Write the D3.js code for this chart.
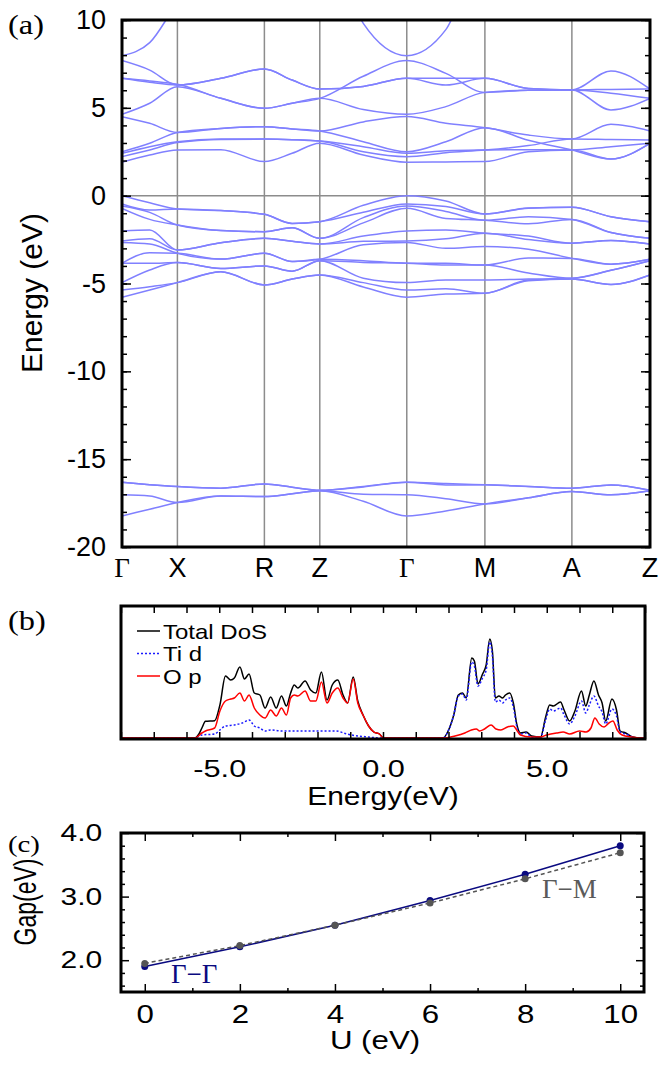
<!DOCTYPE html>
<html>
<head>
<meta charset="utf-8">
<script src="https://cdn.jsdelivr.net/npm/d3@7"></script>
<style>
  html, body { margin: 0; padding: 0; background: #ffffff; }
  svg { display: block; }
</style>
</head>
<body>
<svg id="fig" width="660" height="1068"></svg>
<script>
// ---------------- (a) band structure ----------------
const kLabels = ["Γ", "X", "R", "Z", "Γ", "M", "A", "Z"];
const kNodes = [0, 1.0, 2.57, 3.57, 5.14, 6.55, 8.12, 9.53];
const energyTicks = [10, 5, 0, -5, -10, -15, -20];

// energies (eV) at every high-symmetry point and at each segment midpoint:
// Γ, ·, X, ·, R, ·, Z, ·, Γ, ·, M, ·, A, ·, Z
const conductionBands = [
  [1.90, 2.31, 2.60, 2.62, 1.94, 2.41, 2.98, 2.31, 1.90, 1.92, 1.94, 2.50, 2.60, 2.09, 2.98],
  [2.22, 2.60, 3.02, 3.20, 3.22, 3.19, 3.11, 2.50, 2.22, 2.45, 2.60, 2.85, 3.23, 3.20, 3.17],
  [2.41, 2.79, 3.07, 3.22, 3.22, 3.19, 3.11, 2.79, 2.41, 2.55, 2.60, 2.62, 2.60, 2.79, 2.98],
  [2.50, 2.98, 3.60, 3.83, 3.93, 3.80, 3.68, 3.07, 2.50, 3.07, 3.87, 3.15, 2.60, 2.09, 2.98],
  [4.50, 4.12, 3.60, 3.83, 3.93, 3.80, 3.68, 4.20, 4.50, 4.12, 3.87, 3.45, 3.23, 4.06, 3.68],
  [4.63, 5.26, 6.20, 5.54, 4.97, 5.26, 5.54, 4.90, 4.63, 5.07, 5.88, 6.00, 6.02, 4.88, 5.54],
  [6.68, 6.53, 6.34, 5.54, 4.97, 5.26, 5.54, 6.80, 7.69, 6.96, 5.88, 6.00, 6.02, 5.83, 5.54],
  [6.68, 6.45, 6.30, 6.68, 7.21, 6.58, 6.07, 6.22, 6.68, 6.30, 6.68, 6.10, 6.02, 7.10, 6.07],
  [7.69, 7.15, 6.30, 6.68, 7.21, 6.58, 6.07, 6.22, 6.68, 6.68, 6.68, 6.10, 6.02, 6.05, 6.07],
  [7.97, 8.71, 10.95, 13.0, 13.0, 13.5, 15.3, 9.81, 7.97, 9.45, 13.9, 14.0, 14.0, 14.5, 15.3]
];
const valenceBands = [
  [0.00, -0.40, -0.76, -0.85, -1.06, -1.58, -1.48, -0.55, 0.00, -0.30, -1.04, -0.70, -0.66, -1.20, -1.48],
  [-0.47, -0.82, -0.76, -0.85, -1.06, -1.58, -1.48, -0.95, -0.47, -0.62, -1.04, -0.72, -0.66, -1.20, -1.48],
  [-0.59, -0.95, -1.67, -1.99, -2.05, -1.83, -2.43, -1.25, -0.59, -0.90, -1.40, -1.20, -1.35, -2.10, -2.43],
  [-0.72, -1.35, -1.67, -1.99, -2.05, -1.83, -2.43, -1.55, -0.72, -1.30, -1.40, -1.60, -1.35, -2.10, -2.43],
  [-2.01, -1.95, -3.09, -2.68, -2.43, -2.60, -2.75, -2.30, -2.01, -1.95, -2.14, -2.30, -2.71, -2.55, -2.75],
  [-2.58, -2.45, -3.09, -2.68, -2.43, -2.60, -2.75, -2.60, -2.58, -2.45, -2.14, -2.50, -2.71, -2.55, -2.75],
  [-2.66, -2.75, -3.28, -3.61, -3.28, -3.75, -3.62, -2.80, -2.66, -3.00, -2.90, -3.05, -3.57, -3.90, -3.62],
  [-3.85, -3.25, -3.28, -3.61, -3.28, -3.75, -3.62, -3.70, -3.85, -3.85, -3.95, -3.55, -3.57, -3.90, -3.62],
  [-3.85, -3.85, -3.81, -4.14, -4.00, -4.30, -3.70, -3.80, -3.85, -3.95, -3.95, -4.40, -4.70, -4.25, -3.70],
  [-4.95, -4.23, -3.81, -4.14, -4.00, -4.30, -3.70, -4.70, -4.95, -4.80, -4.80, -4.75, -4.70, -4.25, -3.70],
  [-5.37, -5.18, -4.95, -4.33, -5.08, -4.75, -4.51, -4.95, -5.37, -5.30, -5.56, -4.80, -4.75, -5.05, -4.51],
  [-5.78, -5.37, -4.95, -4.33, -5.08, -4.75, -4.51, -5.20, -5.78, -5.60, -5.56, -4.85, -4.75, -5.05, -4.51]
];
const semicoreBands = [
  [-16.31, -16.45, -16.56, -16.65, -16.41, -16.60, -16.77, -16.55, -16.31, -16.38, -16.46, -16.55, -16.65, -16.47, -16.77],
  [-16.31, -16.45, -16.56, -16.65, -16.41, -16.60, -16.77, -16.58, -16.31, -16.47, -16.46, -16.55, -16.65, -16.47, -16.77],
  [-17.03, -17.10, -17.47, -17.10, -17.13, -16.97, -16.80, -17.00, -17.03, -17.25, -17.55, -17.20, -16.84, -17.03, -16.80],
  [-18.23, -17.85, -17.47, -17.10, -17.13, -16.97, -16.80, -17.40, -18.23, -17.95, -17.55, -17.20, -16.84, -17.03, -16.80]
];

// ---------------- (b) density of states ----------------
const dosTicks = [-5, 0, 5];
const dosTotal = [
  [-8, 0], [-5.75, 0], [-5.62, 0.4], [-5.53, 1.0], [-5.42, 1.67], [-5.14, 1.73], [-4.98, 3.3], [-4.81, 6.2],
  [-4.65, 5.8], [-4.54, 6.0], [-4.37, 7.1], [-4.23, 5.9], [-4.09, 6.4], [-3.93, 4.5], [-3.76, 4.3], [-3.6, 3.0],
  [-3.43, 4.1], [-3.26, 3.0], [-3.1, 4.2], [-2.95, 3.2], [-2.82, 4.5], [-2.71, 5.3], [-2.6, 5.0], [-2.38, 5.7],
  [-2.21, 4.8], [-2.05, 4.5], [-1.88, 6.6], [-1.71, 3.8], [-1.55, 5.3], [-1.38, 5.8], [-1.22, 4.3], [-1.08, 3.5],
  [-0.91, 6.1], [-0.77, 3.7], [-0.61, 2.3], [-0.44, 1.2], [-0.28, 0.6], [-0.11, 0.4], [0.02, 0], [1.83, 0],
  [1.99, 0.7], [2.16, 2.3], [2.3, 4.3], [2.43, 4.5], [2.54, 4.0], [2.71, 8.0], [2.79, 7.7], [2.9, 5.4],
  [3.04, 6.4], [3.15, 7.3], [3.26, 9.9], [3.34, 8.7], [3.43, 4.0], [3.54, 4.2], [3.65, 4.0], [3.74, 4.3],
  [3.87, 4.5], [3.98, 3.5], [4.09, 1.3], [4.2, 0.5], [4.37, 0.6], [4.54, 0.2], [4.81, 0.1], [4.96, 2.0],
  [5.09, 3.3], [5.2, 3.2], [5.42, 3.6], [5.53, 2.8], [5.7, 1.7], [5.86, 2.7], [6.06, 4.7], [6.19, 3.2],
  [6.3, 4.3], [6.44, 5.7], [6.58, 4.3], [6.69, 3.5], [6.8, 1.7], [6.99, 3.9], [7.13, 2.8], [7.24, 0.7],
  [7.41, 0.5], [7.63, 0.1], [7.85, 0], [8, 0]
];
const dosTiD = [
  [-8, 0], [-5.75, 0], [-5.53, 0.3], [-5.14, 0.4], [-4.98, 0.8], [-4.81, 1.2], [-4.54, 1.3], [-4.3, 1.5],
  [-4.09, 1.8], [-3.93, 1.2], [-3.76, 1.0], [-3.6, 0.7], [-3.43, 0.8], [-3.1, 0.7], [-2.77, 0.7], [-2.33, 0.7],
  [-1.88, 0.7], [-1.44, 0.7], [-1.11, 0.4], [-0.77, 0.2], [-0.44, 0.1], [-0.11, 0], [1.83, 0], [1.99, 0.7],
  [2.16, 2.3], [2.3, 4.2], [2.43, 4.4], [2.54, 3.8], [2.71, 7.6], [2.79, 7.2], [2.9, 5.2], [3.04, 6.0],
  [3.15, 6.8], [3.26, 9.6], [3.34, 8.2], [3.43, 3.6], [3.54, 3.8], [3.65, 3.5], [3.74, 3.8], [3.87, 4.0],
  [3.98, 3.1], [4.09, 1.1], [4.2, 0.4], [4.37, 0.5], [4.54, 0.1], [4.81, 0.05], [4.96, 1.7], [5.09, 2.9],
  [5.2, 2.7], [5.42, 3.0], [5.53, 2.3], [5.7, 1.4], [5.86, 2.2], [6.06, 3.7], [6.19, 2.5], [6.3, 3.3],
  [6.44, 4.2], [6.58, 3.2], [6.69, 2.6], [6.8, 1.4], [6.99, 2.9], [7.13, 2.2], [7.24, 0.6], [7.41, 0.4],
  [7.63, 0.1], [7.85, 0], [8, 0]
];
const dosOP = [
  [-8, 0], [-5.75, 0], [-5.53, 0.5], [-5.42, 0.7], [-5.14, 1.0], [-4.98, 2.7], [-4.81, 3.7], [-4.65, 3.9],
  [-4.54, 4.0], [-4.37, 4.5], [-4.23, 3.7], [-4.09, 4.3], [-3.93, 3.0], [-3.76, 2.3], [-3.6, 2.0], [-3.43, 2.8],
  [-3.26, 2.2], [-3.1, 3.0], [-2.95, 2.3], [-2.82, 4.0], [-2.71, 4.3], [-2.6, 4.2], [-2.38, 4.7], [-2.21, 3.7],
  [-2.05, 3.7], [-1.88, 5.6], [-1.71, 3.5], [-1.55, 4.5], [-1.38, 5.0], [-1.22, 4.0], [-1.08, 3.5], [-0.91, 5.9],
  [-0.77, 3.5], [-0.61, 2.3], [-0.44, 1.2], [-0.28, 0.6], [-0.11, 0.4], [0.02, 0], [1.9, 0], [2.2, 0.2],
  [2.5, 0.5], [2.7, 0.8], [2.85, 0.9], [2.95, 0.7], [3.1, 0.9], [3.3, 1.3], [3.45, 0.9], [3.6, 0.8],
  [3.8, 1.1], [3.98, 1.2], [4.1, 0.7], [4.2, 0.3], [4.5, 0.1], [4.8, 0.1], [5.0, 0.3], [5.3, 0.5],
  [5.5, 0.6], [5.7, 0.4], [6.0, 0.7], [6.2, 0.6], [6.35, 1.0], [6.47, 2.0], [6.6, 1.4], [6.75, 1.1],
  [6.9, 1.5], [7.02, 1.7], [7.15, 0.8], [7.3, 0.3], [7.6, 0.1], [7.85, 0], [8, 0]
];
const dosLegend = ["Total DoS", "Ti d", "O p"];

// ---------------- (c) band gap versus U ----------------
const hubbardU = [0, 2, 4, 6, 8, 10];
const gapGammaGamma = [1.90, 2.21, 2.55, 2.94, 3.35, 3.80];
const gapGammaM = [1.95, 2.23, 2.55, 2.90, 3.28, 3.69];
const gapTicks = [2.0, 3.0, 4.0];

// ---------------- drawing ----------------
const SANS = "'Liberation Sans', Arial, Helvetica, sans-serif";
const SERIF = "'Liberation Serif', 'Times New Roman', serif";
const svg = d3.select("#fig");

function styleTicks(g, width) {
  g.select(".domain").remove();
  g.selectAll("line").attr("stroke", "#000").attr("stroke-width", width || 1.5);
}
function frame(box) {
  svg.append("rect")
    .attr("x", box.l).attr("y", box.t)
    .attr("width", box.r - box.l).attr("height", box.b - box.t)
    .attr("fill", "none").attr("stroke", "#000").attr("stroke-width", 3);
}
function panelTag(label, x, y, size) {
  svg.append("text")
    .attr("transform", `translate(${x},${y}) scale(1.2,1)`)
    .attr("font-family", SERIF).attr("font-size", size).text(label);
}

// ===== panel (a)
const A = { l: 122, r: 650, t: 20, b: 547 };
const xk = d3.scaleLinear().domain([kNodes[0], kNodes[kNodes.length - 1]]).range([A.l, A.r]);
const yE = d3.scaleLinear().domain([-20, 10]).range([A.b, A.t]);

const kSamples = [];
kNodes.forEach((k, i) => {
  kSamples.push(k);
  if (i < kNodes.length - 1) kSamples.push((k + kNodes[i + 1]) / 2);
});

svg.append("clipPath").attr("id", "clipA").append("rect")
  .attr("x", A.l).attr("y", A.t).attr("width", A.r - A.l).attr("height", A.b - A.t);

const gA = svg.append("g");
gA.selectAll("line.kline").data(kNodes.slice(1, -1)).join("line")
  .attr("class", "kline")
  .attr("x1", d => xk(d)).attr("x2", d => xk(d))
  .attr("y1", A.t).attr("y2", A.b)
  .attr("stroke", "#8c8c8c").attr("stroke-width", 1.5);
gA.append("line")
  .attr("x1", A.l).attr("x2", A.r).attr("y1", yE(0)).attr("y2", yE(0))
  .attr("stroke", "#8c8c8c").attr("stroke-width", 1.5);

const bandLine = d3.line()
  .x((d, i) => xk(kSamples[i]))
  .y(d => yE(d))
  .curve(d3.curveMonotoneX);

gA.append("g").attr("clip-path", "url(#clipA)")
  .selectAll("path")
  .data([...semicoreBands, ...valenceBands, ...conductionBands])
  .join("path")
  .attr("d", bandLine)
  .attr("fill", "none")
  .attr("stroke", "#8080ff")
  .attr("stroke-width", 1.5);

// energy ticks on both sides, pointing inward
const minorE = yE.ticks(30);
gA.append("g").attr("transform", `translate(${A.l},0)`)
  .call(d3.axisLeft(yE).tickValues(minorE).tickSize(-5).tickFormat(""))
  .call(styleTicks);
gA.append("g").attr("transform", `translate(${A.l},0)`)
  .call(d3.axisLeft(yE).tickValues(energyTicks).tickSize(-9).tickFormat(""))
  .call(styleTicks);
gA.append("g").attr("transform", `translate(${A.r},0)`)
  .call(d3.axisRight(yE).tickValues(minorE).tickSize(-5).tickFormat(""))
  .call(styleTicks);
gA.append("g").attr("transform", `translate(${A.r},0)`)
  .call(d3.axisRight(yE).tickValues(energyTicks).tickSize(-9).tickFormat(""))
  .call(styleTicks);
gA.append("g").attr("transform", `translate(${A.l},0)`)
  .call(d3.axisLeft(yE).tickValues(energyTicks).tickSize(0).tickPadding(16).tickFormat(d => String(d)))
  .call(g => g.select(".domain").remove())
  .attr("font-family", SANS).attr("font-size", 27)
  .selectAll("text").attr("fill", "#000");

gA.selectAll("text.klabel").data(kNodes).join("text")
  .attr("class", "klabel")
  .attr("x", d => xk(d)).attr("y", 577)
  .attr("text-anchor", "middle")
  .attr("font-size", 27)
  .attr("font-family", (d, i) => kLabels[i] === "Γ" ? SERIF : SANS)
  .text((d, i) => kLabels[i]);

gA.append("text")
  .attr("transform", "translate(42,293) rotate(-90)")
  .attr("text-anchor", "middle")
  .attr("font-family", SANS).attr("font-size", 30)
  .text("Energy (eV)");
panelTag("(a)", 8, 34, 27);
frame(A);

// ===== panel (b)
const B = { l: 121, r: 645, t: 606, b: 739 };
const xB = d3.scaleLinear().domain([-8, 8]).range([B.l, B.r]);
const yB = d3.scaleLinear().domain([0, 13.2]).range([738, B.t]);

svg.append("clipPath").attr("id", "clipB").append("rect")
  .attr("x", B.l).attr("y", B.t).attr("width", B.r - B.l).attr("height", B.b - B.t);

const gB = svg.append("g");
const dosLine = d3.line().x(d => xB(d[0])).y(d => yB(d[1])).curve(d3.curveMonotoneX);
const dosSeries = [
  { data: dosTotal, color: "#000000", dash: null },
  { data: dosTiD, color: "#1a1aff", dash: "2,2" },
  { data: dosOP, color: "#ff0000", dash: null }
];
gB.append("g").attr("clip-path", "url(#clipB)")
  .selectAll("path").data(dosSeries).join("path")
  .attr("d", d => dosLine(d.data))
  .attr("fill", "none")
  .attr("stroke", d => d.color)
  .attr("stroke-width", 1.5)
  .attr("stroke-dasharray", d => d.dash);

const eTicks = xB.ticks(16);
gB.append("g").attr("transform", `translate(0,${B.b})`)
  .call(d3.axisBottom(xB).tickValues(eTicks).tickSize(-7).tickFormat(""))
  .call(styleTicks);
gB.append("g").attr("transform", `translate(0,${B.t})`)
  .call(d3.axisTop(xB).tickValues(eTicks).tickSize(-7).tickFormat(""))
  .call(styleTicks);
gB.append("g").attr("transform", `translate(0,${B.b})`)
  .call(d3.axisBottom(xB).tickValues(dosTicks).tickSize(0).tickPadding(21).tickFormat(d => d.toFixed(1)))
  .call(g => g.select(".domain").remove())
  .attr("font-family", SANS).attr("font-size", 24)
  .selectAll("text").attr("fill", "#000").attr("transform", "scale(1.28,1)");

gB.append("text")
  .attr("transform", `translate(${xB(0)},805) scale(1.2,1)`)
  .attr("text-anchor", "middle")
  .attr("font-family", SANS).attr("font-size", 25)
  .text("Energy(eV)");

const legend = gB.append("g");
dosLegend.forEach((label, i) => {
  const yy = 631 + i * 22.5;
  legend.append("line")
    .attr("x1", 137).attr("x2", 160).attr("y1", yy).attr("y2", yy)
    .attr("stroke", dosSeries[i].color).attr("stroke-width", 1.5)
    .attr("stroke-dasharray", dosSeries[i].dash);
  legend.append("text")
    .attr("transform", `translate(163,${yy + 7.5}) scale(1.2,1)`)
    .attr("font-family", SANS).attr("font-size", 20).text(label);
});
panelTag("(b)", 8, 630, 27);
frame(B);

// ===== panel (c)
const C = { l: 121, r: 644, t: 833, b: 992 };
const xU = d3.scaleLinear().domain([-0.5, 10.5]).range([C.l, C.r]);
const yG = d3.scaleLinear().domain([1.5, 4.0]).range([C.b, C.t]);
const gC = svg.append("g");

const uMinor = xU.ticks(11).filter(d => d % 2 !== 0);
const gMinor = yG.ticks(12).filter(d => Math.abs(d * 10 % 10) > 1e-6);
[[d3.axisBottom, C.b], [d3.axisTop, C.t]].forEach(([ax, yy]) => {
  gC.append("g").attr("transform", `translate(0,${yy})`)
    .call(ax(xU).tickValues(hubbardU).tickSize(-8).tickFormat("")).call(styleTicks);
  gC.append("g").attr("transform", `translate(0,${yy})`)
    .call(ax(xU).tickValues(uMinor).tickSize(-4).tickFormat("")).call(styleTicks);
});
[[d3.axisLeft, C.l], [d3.axisRight, C.r]].forEach(([ax, xx]) => {
  gC.append("g").attr("transform", `translate(${xx},0)`)
    .call(ax(yG).tickValues(gapTicks).tickSize(-8).tickFormat("")).call(styleTicks);
  gC.append("g").attr("transform", `translate(${xx},0)`)
    .call(ax(yG).tickValues(gMinor).tickSize(-4).tickFormat("")).call(styleTicks);
});
gC.append("g").attr("transform", `translate(0,${C.b})`)
  .call(d3.axisBottom(xU).tickValues(hubbardU).tickSize(0).tickPadding(13).tickFormat(d => String(d)))
  .call(g => g.select(".domain").remove())
  .attr("font-family", SANS).attr("font-size", 25)
  .selectAll("text").attr("fill", "#000").attr("transform", "scale(1.25,1)");
gC.append("g").attr("transform", `translate(${C.l},0)`)
  .call(d3.axisLeft(yG).tickValues(gapTicks).tickSize(0).tickPadding(15).tickFormat(d => d.toFixed(1)))
  .call(g => g.select(".domain").remove())
  .attr("font-family", SANS).attr("font-size", 24)
  .selectAll("text").attr("fill", "#000").attr("transform", "scale(1.25,1)");

gC.append("text")
  .attr("transform", `translate(375,1049) scale(1.25,1)`)
  .attr("text-anchor", "middle")
  .attr("font-family", SANS).attr("font-size", 25)
  .text("U (eV)");
gC.append("text")
  .attr("transform", "translate(36,902) rotate(-90) scale(1,1.4)")
  .attr("text-anchor", "middle")
  .attr("font-family", SANS).attr("font-size", 23)
  .text("Gap(eV)");

const gapLine = d3.line().x((d, i) => xU(hubbardU[i])).y(d => yG(d));
const gapSeries = [
  { data: gapGammaGamma, color: "#0a0a80", dash: null },
  { data: gapGammaM, color: "#555555", dash: "4,3" }
];
gapSeries.forEach(s => {
  gC.append("path").attr("d", gapLine(s.data))
    .attr("fill", "none").attr("stroke", s.color).attr("stroke-width", 1.5)
    .attr("stroke-dasharray", s.dash);
  gC.selectAll(null).data(s.data).join("circle")
    .attr("cx", (d, i) => xU(hubbardU[i])).attr("cy", d => yG(d))
    .attr("r", 3.5).attr("fill", s.color);
});
gC.append("text").attr("x", 171).attr("y", 983)
  .attr("font-family", SERIF).attr("font-size", 27).attr("fill", "#0a0a80").text("Γ−Γ");
gC.append("text").attr("x", 542).attr("y", 898)
  .attr("font-family", SERIF).attr("font-size", 27).attr("fill", "#5a5a5a").text("Γ−M");
panelTag("(c)", 8, 852, 24);
frame(C);
</script>
</body>
</html>
